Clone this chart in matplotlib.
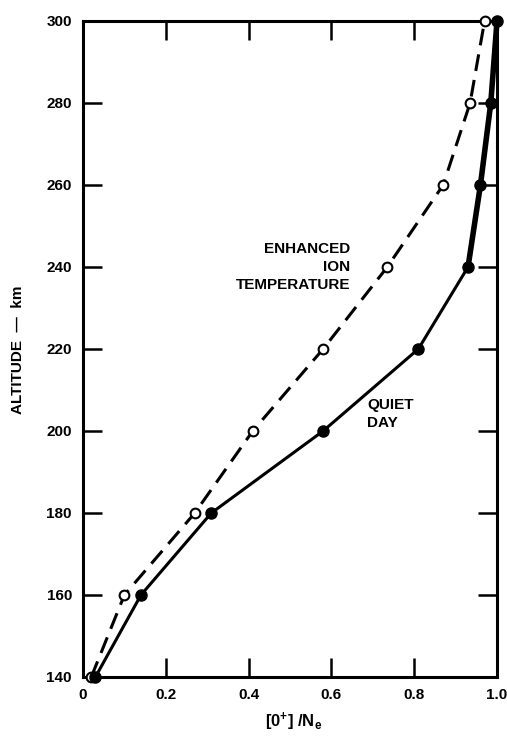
import matplotlib
matplotlib.use("Agg")
import matplotlib.pyplot as plt

plt.rcParams['font.family'] = ['Liberation Sans', 'DejaVu Sans']
plt.rcParams['font.weight'] = 'bold'
plt.rcParams['mathtext.fontset'] = 'custom'
plt.rcParams['mathtext.rm'] = 'Liberation Sans:bold'
plt.rcParams['mathtext.it'] = 'Liberation Sans:bold'

altitude = [140, 160, 180, 200, 220, 240, 260, 280, 300]
quiet_day = [0.03, 0.14, 0.31, 0.58, 0.81, 0.93, 0.96, 0.985, 1.0]
enhanced_ti = [0.02, 0.10, 0.27, 0.41, 0.58, 0.735, 0.87, 0.935, 0.97]

x_ticks = [0, 0.2, 0.4, 0.6, 0.8, 1.0]
x_ticklabels = ["0", "0.2", "0.4", "0.6", "0.8", "1.0"]
y_ticks = [140, 160, 180, 200, 220, 240, 260, 280, 300]

fig = plt.figure(figsize=(5.07, 7.44), dpi=100)
ax = fig.add_axes([83/507, 1-677/744, (497-83)/507, (677-21)/744])

# enhanced ion temperature profile: dashed with open circles
ax.plot(enhanced_ti, altitude, color='black', lw=2.2, ls=(0, (5.5, 3)),
        marker='o', ms=7, mfc='white', mec='black', mew=1.5, zorder=3,
        clip_on=False)
# quiet-day profile: solid with filled circles, heavier above 240 km
ax.plot(quiet_day[:6], altitude[:6], color='black', lw=2.2, zorder=4,
        clip_on=False)
ax.plot(quiet_day[5:], altitude[5:], color='black', lw=4.0, zorder=4,
        clip_on=False)
ax.plot(quiet_day, altitude, ls='none', marker='o', ms=8, mfc='black',
        mec='black', zorder=5, clip_on=False)

ax.set_xlim(0, 1.0)
ax.set_ylim(140, 300)
ax.set_xticks(x_ticks)
ax.set_xticklabels(x_ticklabels)
ax.set_yticks(y_ticks)
ax.tick_params(direction='in', length=14, width=1.8, top=True, right=True,
               labelsize=11, pad=8)
for s in ax.spines.values():
    s.set_linewidth(2.2)

ax.text(350/507, 1-242/744, "ENHANCED\nION\nTEMPERATURE", transform=fig.transFigure,
        ha='right', va='top', fontsize=11, fontweight='bold', linespacing=1.35)
ax.text(367/507, 1-398/744, "QUIET\nDAY", transform=fig.transFigure,
        ha='left', va='top', fontsize=11, fontweight='bold', linespacing=1.35)

fig.text(18/507, 1-350/744, "ALTITUDE  —  km", rotation=90, ha='center',
         va='center', fontsize=11, fontweight='bold')
fig.text(294/507, 1-722/744, r"[0$^{+}$] /N$_{\mathregular{e}}$", ha='center',
         va='center', fontsize=12, fontweight='bold')

fig.savefig("out.png", dpi=100)
